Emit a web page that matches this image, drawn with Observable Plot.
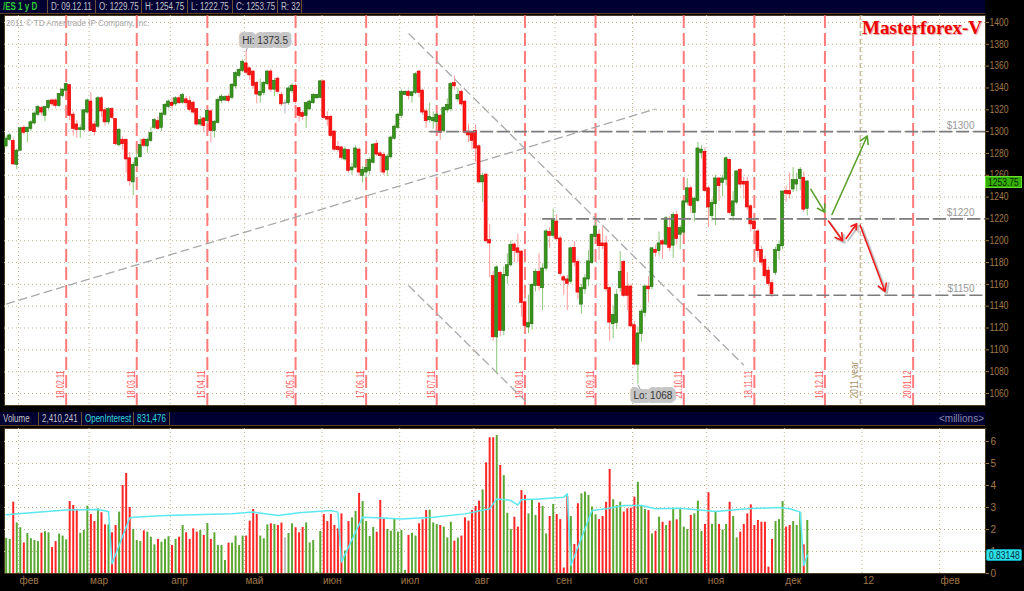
<!DOCTYPE html>
<html><head><meta charset="utf-8">
<script src="https://cdn.jsdelivr.net/npm/d3@7"></script>
<script src="https://cdn.jsdelivr.net/npm/@observablehq/plot@0.6"></script>
<style>
body{margin:0;background:#000;}
#wrap{position:relative;width:1024px;height:591px;background:#000;overflow:hidden;font-family:"Liberation Sans",Arial,sans-serif;}
.bar{position:absolute;left:0;width:985px;height:13px;background:#000033;border-bottom:1px solid #5a4020;}
.cell{position:absolute;top:0;height:13px;line-height:13px;font-size:10px;color:#c4c4c4;border-right:1px solid #6a5030;padding-left:3px;box-sizing:border-box;white-space:nowrap;overflow:hidden;}
.s{display:inline-block;transform:scaleX(0.8);transform-origin:0 50%;}
.svgbox{position:absolute;left:0;}
.tag{position:absolute;height:12px;line-height:11px;font-size:10px;box-sizing:border-box;white-space:nowrap;overflow:hidden;padding-left:2px;}
</style></head>
<body><div id="wrap">
<div class="bar" style="top:0">
  <div class="cell" style="left:0;width:48px;color:#33cc33;font-weight:bold"><span class="s">/ES 1 y D</span></div>
  <div class="cell" style="left:48px;width:48px"><span class="s">D: 09.12.11</span></div>
  <div class="cell" style="left:96px;width:46px"><span class="s">O: 1229.75</span></div>
  <div class="cell" style="left:142px;width:46px"><span class="s">H: 1254.75</span></div>
  <div class="cell" style="left:188px;width:45px"><span class="s">L: 1222.75</span></div>
  <div class="cell" style="left:233px;width:45px"><span class="s">C: 1253.75</span></div>
  <div class="cell" style="left:278px;width:24px"><span class="s">R: 32</span></div>
</div>
<div id="price" class="svgbox" style="top:15px"></div>
<div style="position:absolute;left:6px;top:18px;font-size:9px;color:#a8a8a8;"><span class="s" style="transform:scaleX(0.9)">2011 © TD Ameritrade IP Company, Inc.</span></div>
<div style="position:absolute;right:42px;top:18px;font-family:'Liberation Serif','Times New Roman',serif;font-weight:bold;font-size:19px;line-height:20px;color:#ee0000;text-shadow:1px 1px 1px #e0a0a0;">Masterforex-V</div>
<div class="bar" style="top:412px">
  <div class="cell" style="left:0;width:39px"><span class="s">Volume</span></div>
  <div class="cell" style="left:39px;width:43px"><span class="s">2,410,241</span></div>
  <div class="cell" style="left:82px;width:52px;color:#33dddd"><span class="s">OpenInterest</span></div>
  <div class="cell" style="left:134px;width:36px;color:#33dddd"><span class="s">831,476</span></div>
  <div class="cell" style="left:900px;width:84px;border:none;text-align:right;color:#8a8aaa">&lt;millions&gt;</div>
</div>
<div id="vol" class="svgbox" style="top:428px"></div>
</div>
<script>
// ---------- data ----------
const candleDates = [
"2011-01-26","2011-01-27","2011-01-28","2011-01-31",
"2011-02-01","2011-02-02","2011-02-03","2011-02-04","2011-02-07","2011-02-08","2011-02-09","2011-02-10","2011-02-11","2011-02-14","2011-02-15","2011-02-16","2011-02-17","2011-02-18","2011-02-21","2011-02-22","2011-02-23","2011-02-24","2011-02-25","2011-02-28",
"2011-03-01","2011-03-02","2011-03-03","2011-03-04","2011-03-07","2011-03-08","2011-03-09","2011-03-10","2011-03-11","2011-03-14","2011-03-15","2011-03-16","2011-03-17","2011-03-18","2011-03-21","2011-03-22","2011-03-23","2011-03-24","2011-03-25","2011-03-28","2011-03-29","2011-03-30","2011-03-31",
"2011-04-01","2011-04-04","2011-04-05","2011-04-06","2011-04-07","2011-04-08","2011-04-11","2011-04-12","2011-04-13","2011-04-14","2011-04-15","2011-04-18","2011-04-19","2011-04-20","2011-04-21","2011-04-22","2011-04-25","2011-04-26","2011-04-27","2011-04-28","2011-04-29",
"2011-05-02","2011-05-03","2011-05-04","2011-05-05","2011-05-06","2011-05-09","2011-05-10","2011-05-11","2011-05-12","2011-05-13","2011-05-16","2011-05-17","2011-05-18","2011-05-19","2011-05-20","2011-05-23","2011-05-24","2011-05-25","2011-05-26","2011-05-27","2011-05-30","2011-05-31",
"2011-06-01","2011-06-02","2011-06-03","2011-06-06","2011-06-07","2011-06-08","2011-06-09","2011-06-10","2011-06-13","2011-06-14","2011-06-15","2011-06-16","2011-06-17","2011-06-20","2011-06-21","2011-06-22","2011-06-23","2011-06-24","2011-06-27","2011-06-28","2011-06-29","2011-06-30",
"2011-07-01","2011-07-04","2011-07-05","2011-07-06","2011-07-07","2011-07-08","2011-07-11","2011-07-12","2011-07-13","2011-07-14","2011-07-15","2011-07-18","2011-07-19","2011-07-20","2011-07-21","2011-07-22","2011-07-25","2011-07-26","2011-07-27","2011-07-28","2011-07-29",
"2011-08-01","2011-08-02","2011-08-03","2011-08-04","2011-08-05","2011-08-08","2011-08-09","2011-08-10","2011-08-11","2011-08-12","2011-08-15","2011-08-16","2011-08-17","2011-08-18","2011-08-19","2011-08-22","2011-08-23","2011-08-24","2011-08-25","2011-08-26","2011-08-29","2011-08-30","2011-08-31",
"2011-09-01","2011-09-02","2011-09-05","2011-09-06","2011-09-07","2011-09-08","2011-09-09","2011-09-12","2011-09-13","2011-09-14","2011-09-15","2011-09-16","2011-09-19","2011-09-20","2011-09-21","2011-09-22","2011-09-23","2011-09-26","2011-09-27","2011-09-28","2011-09-29","2011-09-30",
"2011-10-03","2011-10-04","2011-10-05","2011-10-06","2011-10-07","2011-10-10","2011-10-11","2011-10-12","2011-10-13","2011-10-14","2011-10-17","2011-10-18","2011-10-19","2011-10-20","2011-10-21","2011-10-24","2011-10-25","2011-10-26","2011-10-27","2011-10-28","2011-10-31",
"2011-11-01","2011-11-02","2011-11-03","2011-11-04","2011-11-07","2011-11-08","2011-11-09","2011-11-10","2011-11-11","2011-11-14","2011-11-15","2011-11-16","2011-11-17","2011-11-18","2011-11-21","2011-11-22","2011-11-23","2011-11-24","2011-11-25","2011-11-28","2011-11-29","2011-11-30",
"2011-12-01","2011-12-02","2011-12-05","2011-12-06","2011-12-07","2011-12-08","2011-12-09"];

const opens = [
1287,1293,1291,1270,
1283,1303,1300,1303,1308,1316,1321,1315,1322,1328,1328,1324,1333,1338,1342,1315,1306,1302,1302,1318,
1327,1306,1305,1330,1319,1309,1320,1311,1288,1292,1292,1275,1254,1269,1277,1292,1287,1292,1304,1309,1304,1316,1323,
1326,1325.5,1330,1327,1329,1327.5,1326,1320,1307,1311.5,1310,1318,1301,1308.5,1328.5,1329,1331.5,1331.5,1342,1351.5,1356,
1362,1357.5,1354.5,1344,1333.5,1336,1344,1354.5,1339,1348,1333,1326,1326.5,1337.5,1341.5,1321,1316.5,1315,1321,1326.5,1331,1331.5,
1345.5,1313,1313,1299.5,1285.5,1285,1275,1282.5,1265,1267.5,1283,1260,1263,1264.5,1272,1288,1279.5,1278,1265,1277,1294,1304,
1315,1334,1336,1333,1336,1354.5,1337,1318,1311,1310,1309,1314,1301,1320,1321,1344,1330,1336,1327,1299.5,1298,
1300,1286,1254,1260,1200,1167,1112,1170,1118,1168,1178,1196,1192.5,1189.5,1143,1121,1124,1159,1171,1157,1175,1207.5,1205,
1217,1201.5,1166,1164,1163,1193,1180,1142,1156,1165,1180,1204,1205,1197,1197,1156,1124,1125,1157,1180,1157.5,1157.5,
1122,1087,1115,1134.5,1157.5,1158,1191,1191,1199,1197,1211,1196,1223,1206,1208,1235.5,1247.5,1226,1237,1281,1281,
1247.5,1223,1234,1256.5,1253.5,1256.5,1273.5,1223,1235.5,1264.5,1253.5,1253.5,1231,1217,1208,1191,1182,1172,1160.5,1171,1191,1195.5,
1245,1245,1247.5,1252,1257,1257,1229.75];

const highs = [
1296,1298,1294,1284,
1304,1305,1304,1310,1318,1324,1323,1323,1329,1330,1330,1335,1339,1344.5,1343,1318,1310,1306,1320,1330,
1336,1309,1332,1332,1322,1322,1322,1312,1303,1295,1293,1281,1272,1283,1293,1294,1294,1304,1312,1313,1317,1326,1329,
1331,1332,1333,1335,1332,1332,1328,1321,1314,1313,1320,1320,1310,1331,1334,1333,1334,1344,1355,1358,1366,
1373.5,1359,1356,1346,1348,1346,1356,1357,1349,1350,1336,1329,1341,1344,1344,1322,1319,1327,1329,1335,1334,1347,
1347,1318,1315,1301,1291,1286,1286,1284,1271,1287,1285,1268,1271,1276,1289,1292,1282,1281,1279,1296,1306,1317,
1338,1337,1338,1337,1354,1356,1339,1321,1326,1318,1317,1316,1323,1330,1345,1351,1340,1338,1328,1307,1299,
1306,1288,1262,1262,1215,1172,1177,1172,1176,1188,1200,1198,1206,1191,1150,1150,1161,1174,1188,1179,1210,1212,1229,
1224,1204,1168,1168,1194,1199,1183,1160,1169,1191,1206,1217,1210,1213,1204,1158,1140,1155,1190,1182,1171,1160,
1126,1121,1137,1159,1167,1194,1196,1208,1201,1222,1222,1226,1227,1214,1237,1257,1250,1240,1290,1287,1285,
1250,1238,1260,1258,1260,1277,1275,1245,1264,1266,1258,1258,1233,1220,1210,1195,1186,1176,1164,1194,1200,1246,
1250,1262,1267,1262,1267,1263,1254.75];

const lows = [
1285,1291,1269,1265,
1282,1297,1290,1300,1306,1314,1315,1309,1320,1323,1321,1322,1331,1336,1310,1296,1294,1294,1300,1316,
1300,1296,1303,1313,1305,1306,1311,1287,1286,1283,1262,1250,1241,1267,1276,1285,1280,1290,1302,1301,1300,1314,1321,
1320,1323,1325,1325,1322,1318,1316,1305,1305,1299,1307,1290,1294,1307,1326,1328,1326,1329,1339,1349,1354,
1352,1347,1339,1325.5,1326,1333,1342,1336,1332,1335,1323,1316,1324,1335,1325,1309,1310,1303,1319,1325,1330,1330,
1311,1305,1294,1282,1281,1274,1273,1262,1260,1266,1259,1253,1257,1260,1270,1277,1262,1260,1259,1275,1292,1302,
1312,1333,1329,1326,1334,1331,1315,1303,1308,1302,1305,1292,1299,1317,1318,1338,1327,1323,1297,1290,1283,
1272,1252,1235,1198,1166,1108,1078,1112,1113,1160,1176,1180,1180,1130,1116,1115,1118,1153,1154,1136,1172,1193,1202,
1200,1167,1150,1136,1160,1176,1146,1133,1151,1158,1178,1200,1182,1192,1153,1108,1110,1119,1153,1148,1136,1120,
1085,1068,1107,1130,1143,1155,1185,1186,1183,1195,1190,1184,1196,1192,1205,1232,1225,1217,1235,1275,1244,
1212,1218,1214,1236,1240,1250,1224,1218,1233,1248,1238,1228,1208,1206,1184,1177,1165,1158,1148,1168,1182,1192,
1235,1238,1244,1245,1246,1226,1222.75];

const closes = [
1293,1296,1270.5,1282,
1302.5,1299.5,1303,1308,1316,1322,1318,1322,1327.5,1325.5,1324,1334,1338,1343,1315,1303,1302,1302.5,1319,1328,
1301,1300,1330,1319,1309,1320,1313,1289,1301,1289,1275,1255,1269,1275,1287,1287.5,1292,1298,1310,1303,1316,1324,1327,
1324,1330,1326.5,1333,1326.5,1320.5,1318,1307,1310,1305.5,1318.5,1301,1308.5,1328.5,1331.5,1331,1328.5,1342.5,1353,1356,1363.5,
1354.5,1352,1342.5,1334.5,1336,1344,1354.5,1339,1346,1337,1325.5,1326,1339,1341.5,1327.5,1315,1314,1325.5,1327,1333,1333,1345.5,
1313,1311.5,1296.5,1284,1283.5,1276.5,1283,1264.5,1266.5,1284,1263,1264.5,1266,1273.5,1287.5,1279.5,1278,1263,1276.5,1294,1304,1315,
1336,1336,1333,1335.5,1352,1336,1318,1310,1313,1312,1315,1299.5,1321,1324,1343,1342,1333,1325.5,1299.5,1297,1292,
1285,1254,1259,1200,1198,1112,1175,1118,1168,1177,1195.5,1191,1189.5,1143.5,1122.5,1124,1159,1171,1159,1174,1208,1205,1218.5,
1202,1170,1164,1161,1192.5,1180.5,1153,1156,1165,1180.5,1205,1212.5,1195.5,1195.5,1156,1125.5,1131.5,1150,1171,1150,1150,1122,
1087,1114.5,1134.5,1157.5,1156,1192.5,1189.5,1197,1197,1220,1194,1223,1202,1211,1235.5,1247.5,1232.5,1238,1284,1283,1246,
1231,1234,1256.5,1250.5,1256.5,1275,1226,1235.5,1263,1252,1252,1231,1215.5,1211,1191,1180.5,1168,1161,1151.5,1191,1195.5,1244.5,
1243.5,1243,1255,1255,1264.5,1229,1253.75];

// volume, millions of contracts
const volumes = [
1.6,1.55,3.24,2.3,
2.08,1.39,1.82,1.58,1.5,1.45,1.83,1.9,1.85,1.18,1.45,1.79,1.7,1.53,3.27,3.09,2.89,1.83,1.95,3.06,
2.68,2.36,2.94,2.76,2.21,2.21,1.85,2.18,2.79,4.0,4.55,3.0,2.0,1.5,1.45,1.94,1.88,1.65,1.3,1.55,1.42,1.55,1.67,
1.27,1.55,1.65,2.18,1.85,1.55,2.03,1.88,1.95,1.73,2.27,1.55,1.85,1.27,1.27,0.59,1.38,1.38,1.7,1.27,1.7,
1.7,2.38,2.91,2.68,1.7,1.58,2.21,2.26,2.23,2.18,2.29,1.62,1.82,2.26,2.08,1.85,2.09,2.3,1.39,1.5,0.06,1.91,
2.68,2.36,2.68,2.18,2.03,2.71,1.02,2.36,2.53,2.82,3.64,3.27,2.36,1.68,2.09,1.88,3.32,2.48,2.0,1.92,2.48,1.88,
1.95,0.14,1.73,1.83,1.7,2.26,2.44,2.86,2.88,2.3,2.23,2.18,2.11,1.62,2.33,1.47,1.61,1.7,2.53,2.38,2.86,
3.05,3.29,3.8,5.03,6.17,6.17,6.27,4.91,4.45,2.74,2.0,2.56,2.11,3.77,3.55,2.71,3.32,2.64,3.2,3.05,1.8,2.59,3.14,
2.68,2.45,0.25,3.5,2.59,1.32,3.17,3.62,3.7,3.55,3.02,2.67,2.45,2.59,3.24,4.73,3.35,3.09,3.24,2.79,2.94,2.97,
3.47,4.15,3.06,2.91,2.86,1.8,1.92,2.56,2.33,2.18,2.38,2.97,2.44,2.91,2.11,2.0,2.64,2.71,3.29,1.91,2.23,
3.67,2.23,2.82,2.23,1.98,2.23,3.24,2.59,1.62,1.88,2.23,2.71,3.12,2.18,2.41,2.33,2.33,0.29,1.55,2.36,2.45,3.27,
2.11,2.18,2.36,2.18,2.76,1.3,2.41];

// open interest, millions
const oiDates = ["2011-01-26","2011-02-04","2011-02-18","2011-03-03","2011-03-08","2011-03-09","2011-03-16","2011-03-17","2011-03-30","2011-04-26","2011-05-04","2011-05-13","2011-05-23","2011-06-03","2011-06-07","2011-06-08","2011-06-16","2011-06-24","2011-07-01","2011-07-14","2011-07-27","2011-08-05","2011-08-09","2011-08-15","2011-08-16","2011-08-17","2011-08-18","2011-08-25","2011-08-30","2011-09-05","2011-09-06","2011-09-07","2011-09-15","2011-09-21","2011-09-28","2011-10-05","2011-10-11","2011-10-20","2011-10-31","2011-11-03","2011-11-16","2011-11-29","2011-12-02","2011-12-07","2011-12-08","2011-12-09"];
const oiValues = [2.67,2.76,2.89,2.91,2.82,0.44,2.52,2.56,2.64,2.71,2.79,2.64,2.76,2.86,2.79,0.52,2.56,2.52,2.48,2.56,2.71,2.94,3.39,3.32,3.21,3.12,3.35,3.39,3.42,3.47,3.62,0.36,2.86,2.94,3.09,3.09,2.94,2.97,2.86,2.82,2.94,3.0,2.94,2.79,0.36,0.83148];

const priceTicks = [1060,1080,1100,1120,1140,1160,1180,1200,1220,1240,1260,1280,1300,1320,1340,1360,1380,1400];
const volTicks = [0,1,2,3,4,5,6];
const monthStarts = ["2011-02-01","2011-03-01","2011-04-01","2011-05-02","2011-06-01","2011-07-01","2011-08-01","2011-09-01","2011-10-03","2011-11-01","2011-12-01","2012-01-02","2012-02-01"];
const monthLabels = ["фев","мар","апр","май","июн","июл","авг","сен","окт","ноя","дек","12","фев"];
const expiryDates = ["2011-02-18","2011-03-18","2011-04-15","2011-05-20","2011-06-17","2011-07-15","2011-08-19","2011-09-16","2011-10-21","2011-11-18","2011-12-16","2012-01-20"];
const expiryLabels = ["18.02.11","18.03.11","15.04.11","20.05.11","17.06.11","15.07.11","19.08.11","16.09.11","21.10.11","18.11.11","16.12.11","20.01.12"];
const yearEndDate = "2011-12-30";
const yearEndLabel = "2011 year";
const levelPrices = [1300,1220,1150];
const levelFrom = ["2011-07-13","2011-08-26","2011-10-27"];
const trendFrom = ["2011-01-26","2011-07-05","2011-07-05"];
const trendFromPrice = [1142,1390,1159];
const trendTo = ["2011-10-11","2011-11-15","2011-08-22"];
const trendToPrice = [1320.7,1086,1050.3];
const greenArrowFrom = ["2011-12-12","2011-12-20"];
const greenArrowFromPrice = [1247,1224];
const greenArrowTo = ["2011-12-16","2012-01-03"];
const greenArrowToPrice = [1226,1296];
const redArrowFrom = ["2011-12-19","2011-12-26","2011-12-30"];
const redArrowFromPrice = [1218,1202,1214];
const redArrowTo = ["2011-12-23","2011-12-29","2012-01-10"];
const redArrowToPrice = [1200,1215.5,1153.5];
const hiDate = "2011-05-02", hiPrice = 1373.5;
const loDate = "2011-10-04", loPrice = 1068;
const lastClose = 1253.75;
const lastOI = 0.83148;

// ---------- helpers ----------
const base = Date.UTC(2011, 1, 1), DAY = 864e5;
function wd(s) { // weekday index relative to 2011-02-01
  const [y, m, d] = s.split("-").map(Number);
  const t = Date.UTC(y, m - 1, d);
  let n = 0;
  if (t >= base) { for (let u = base; u < t; u += DAY) { const w = new Date(u).getUTCDay(); if (w > 0 && w < 6) n++; } }
  else { for (let u = t; u < base; u += DAY) { const w = new Date(u).getUTCDay(); if (w > 0 && w < 6) n--; } }
  return n;
}
const candles = candleDates.map((d, k) => ({i: wd(d), o: opens[k], h: highs[k], l: lows[k], c: closes[k], v: volumes[k]}));
const dir = d => d.c > d.o ? 1 : d.c < d.o ? -1 : 0;
const bodyFill = d => dir(d) > 0 ? "#36961a" : dir(d) < 0 ? "#ff1414" : "#aaaaaa";
const bodyStroke = d => dir(d) > 0 ? "#256a10" : dir(d) < 0 ? "#e00000" : "#999999";
const wickCol = d => dir(d) > 0 ? "#8cc87a" : dir(d) < 0 ? "#ff9a9a" : "#bbbbbb";
const volCol = d => dir(d) > 0 ? "#5aa832" : dir(d) < 0 ? "#ff2626" : "#c0c0c0";
const monthIdx = monthStarts.map(s => wd(s) - 0.5);
const months = monthIdx.map((x, k) => ({x, label: monthLabels[k]}));
const expiries = expiryDates.map((d, k) => ({x: wd(d), label: expiryLabels[k]}));
const levels = levelPrices.map((p, k) => ({p, x1: wd(levelFrom[k])}));
const trends = trendFrom.map((d, k) => ({x1: wd(d), y1: trendFromPrice[k], x2: wd(trendTo[k]), y2: trendToPrice[k]}));
const gArrows = greenArrowFrom.map((d, k) => ({x1: wd(d), y1: greenArrowFromPrice[k], x2: wd(greenArrowTo[k]), y2: greenArrowToPrice[k]}));
const rArrows = redArrowFrom.map((d, k) => ({x1: wd(d), y1: redArrowFromPrice[k], x2: wd(redArrowTo[k]), y2: redArrowToPrice[k]}));
const oi = oiDates.map((d, k) => ({x: wd(d), y: oiValues[k]}));
const xDomain = [-4.477, 273.5];
const GRID = "#c2b48e";
const AX = "#a07848";
const FONT = "'Liberation Sans',Arial,sans-serif";

// ---------- price panel ----------
const price = Plot.plot({
  width: 1024, height: 390,
  marginLeft: 4, marginRight: 39, marginTop: 0, marginBottom: 0,
  x: {domain: xDomain, axis: null},
  y: {domain: [1049.0, 1406.4], axis: null},
  color: {type: "identity"},
  style: {background: "#000", fontFamily: FONT, fontSize: "10px", overflow: "visible"},
  marks: [
    Plot.frame({fill: "white", stroke: "#4a3a20"}),
    Plot.ruleY(priceTicks, {stroke: GRID, strokeDasharray: "1,3"}),
    Plot.ruleX(monthIdx, {stroke: GRID, strokeDasharray: "1,3"}),
    Plot.ruleX(expiries, {x: "x", stroke: "#ff6464", strokeWidth: 2, strokeDasharray: "13,5", strokeOpacity: 0.85}),
    Plot.ruleX([yearEndDate], {x: d => wd(d), stroke: "#b4a070", strokeWidth: 1, strokeDasharray: "5,3"}),
    Plot.text(expiries, {x: "x", frameAnchor: "bottom", dy: -7, dx: -2, rotate: -90, text: "label", textAnchor: "start", lineAnchor: "bottom", fill: "#ff5a5a", fontSize: 10, className: "explab"}),
    Plot.text([yearEndLabel], {x: () => wd(yearEndDate), frameAnchor: "bottom", dy: -7, dx: -2, rotate: -90, text: d => d, textAnchor: "start", lineAnchor: "bottom", fill: "#a8946a", fontSize: 10, className: "yearlab"}),
    Plot.link(trends, {x1: "x1", y1: "y1", x2: "x2", y2: "y2", stroke: "#a8a8a8", strokeWidth: 1.3, strokeDasharray: "9,4", clip: true}),
    Plot.axisY(priceTicks, {anchor: "right", tickSize: 3, tickPadding: 1, tickFormat: d => String(d), stroke: AX, fill: AX, color: AX, label: null, fontSize: 10, className: "pax"}),
    Plot.ruleX(candles, {x: "i", y1: "l", y2: "h", stroke: wickCol, strokeWidth: 1}),
    Plot.rect(candles, {x1: d => d.i - 0.42, x2: d => d.i + 0.42, y1: d => Math.min(d.o, d.c), y2: d => Math.max(d.o, d.c), fill: bodyFill, stroke: bodyStroke, strokeWidth: 0.6, insetTop: -0.6, insetBottom: -0.6}),
    Plot.ruleY(levels, {y: "p", x1: "x1", x2: () => xDomain[1], stroke: "#7c7c7c", strokeWidth: 1.6, strokeDasharray: "13,4"}),
    Plot.text(levelPrices, {y: d => d, frameAnchor: "right", dx: -11, dy: -6, text: d => "$" + d, textAnchor: "end", fill: "#9a9a9a", fontSize: 10}),
    Plot.arrow(gArrows, {x1: "x1", y1: "y1", x2: "x2", y2: "y2", stroke: "#5aa02a", strokeWidth: 1.6, headLength: 8}),
    Plot.arrow(rArrows, {x1: "x1", y1: "y1", x2: "x2", y2: "y2", stroke: "#c4c4c4", strokeWidth: 2, headLength: 8, dx: 2, dy: 2}),
    Plot.arrow(rArrows, {x1: "x1", y1: "y1", x2: "x2", y2: "y2", stroke: "#ee1c1c", strokeWidth: 1.6, headLength: 8}),
    Plot.link([hiDate], {x1: d => wd(d), y1: () => hiPrice, x2: d => wd(d) + 0.5, y2: () => hiPrice + 5, stroke: "#999"}),
    Plot.text([hiDate], {x: d => wd(d), y: () => hiPrice, dx: 19, dy: -11, text: () => "Hi: " + hiPrice, fill: "#333", stroke: "#c6c6c6", strokeWidth: 8, strokeLinejoin: "round", fontSize: 10}),
    Plot.link([loDate], {x1: d => wd(d), y1: () => loPrice, x2: d => wd(d) + 0.8, y2: () => loPrice - 5, stroke: "#999"}),
    Plot.text([loDate], {x: d => wd(d), y: () => loPrice, dx: 15, dy: 11, text: () => "Lo: " + loPrice, fill: "#333", stroke: "#c6c6c6", strokeWidth: 8, strokeLinejoin: "round", fontSize: 10})
  ]
});
document.getElementById("price").appendChild(price);
// narrow the condensed-looking labels like the terminal's font
d3.select(price).selectAll(".explab text").attr("textLength", 28).attr("lengthAdjust", "spacingAndGlyphs");
d3.select(price).selectAll(".yearlab text").attr("textLength", 37).attr("lengthAdjust", "spacingAndGlyphs");
d3.select(price).selectAll(".pax text").attr("textLength", 19).attr("lengthAdjust", "spacingAndGlyphs");

// ---------- volume panel ----------
const vol = Plot.plot({
  width: 1024, height: 163,
  marginLeft: 4, marginRight: 39, marginTop: 0, marginBottom: 18,
  x: {domain: xDomain, axis: null},
  y: {domain: [0, 6.59], axis: null},
  color: {type: "identity"},
  style: {background: "#000", fontFamily: FONT, fontSize: "10px", overflow: "visible"},
  marks: [
    Plot.frame({fill: "white", stroke: "#4a3a20"}),
    Plot.ruleY(volTicks.slice(1), {stroke: GRID, strokeDasharray: "1,3"}),
    Plot.ruleX(monthIdx, {stroke: GRID, strokeDasharray: "1,3"}),
    Plot.ruleX(candles, {x: "i", y: "v", stroke: volCol, strokeWidth: 2}),
    Plot.line(oi, {x: "x", y: "y", stroke: "#5ce8f0", strokeWidth: 1.5}),
    Plot.axisY(volTicks, {anchor: "right", tickSize: 3, tickPadding: 2, tickFormat: d => String(d), stroke: AX, fill: AX, color: AX, label: null, fontSize: 10}),
    Plot.text(months, {x: "x", frameAnchor: "bottom", dy: 10, dx: 1, text: "label", textAnchor: "start", fill: AX, fontSize: 10})
  ]
});
document.getElementById("vol").appendChild(vol);

// ---------- value tags on the right axis ----------
const wrap = document.getElementById("wrap");
const yp = price.scale("y").apply(lastClose) + 15;
const t1 = document.createElement("div");
t1.className = "tag";
t1.style.cssText = `left:985px;width:37px;top:${yp - 6}px;background:#33b000;border:1px solid #66dd33;color:#0a2200;`;
t1.innerHTML = `<span class="s" style="transform:scaleX(0.85)">${lastClose}</span>`;
wrap.appendChild(t1);
const yv = vol.scale("y").apply(lastOI) + 428;
const t2 = document.createElement("div");
t2.className = "tag";
t2.style.cssText = `left:986px;width:36px;top:${yv - 6}px;background:#30e0e8;border:1px solid #10a0b0;color:#003040;border-radius:2px;`;
t2.innerHTML = `<span class="s" style="transform:scaleX(0.85)">${lastOI}</span>`;
wrap.appendChild(t2);
</script>
</body></html>
